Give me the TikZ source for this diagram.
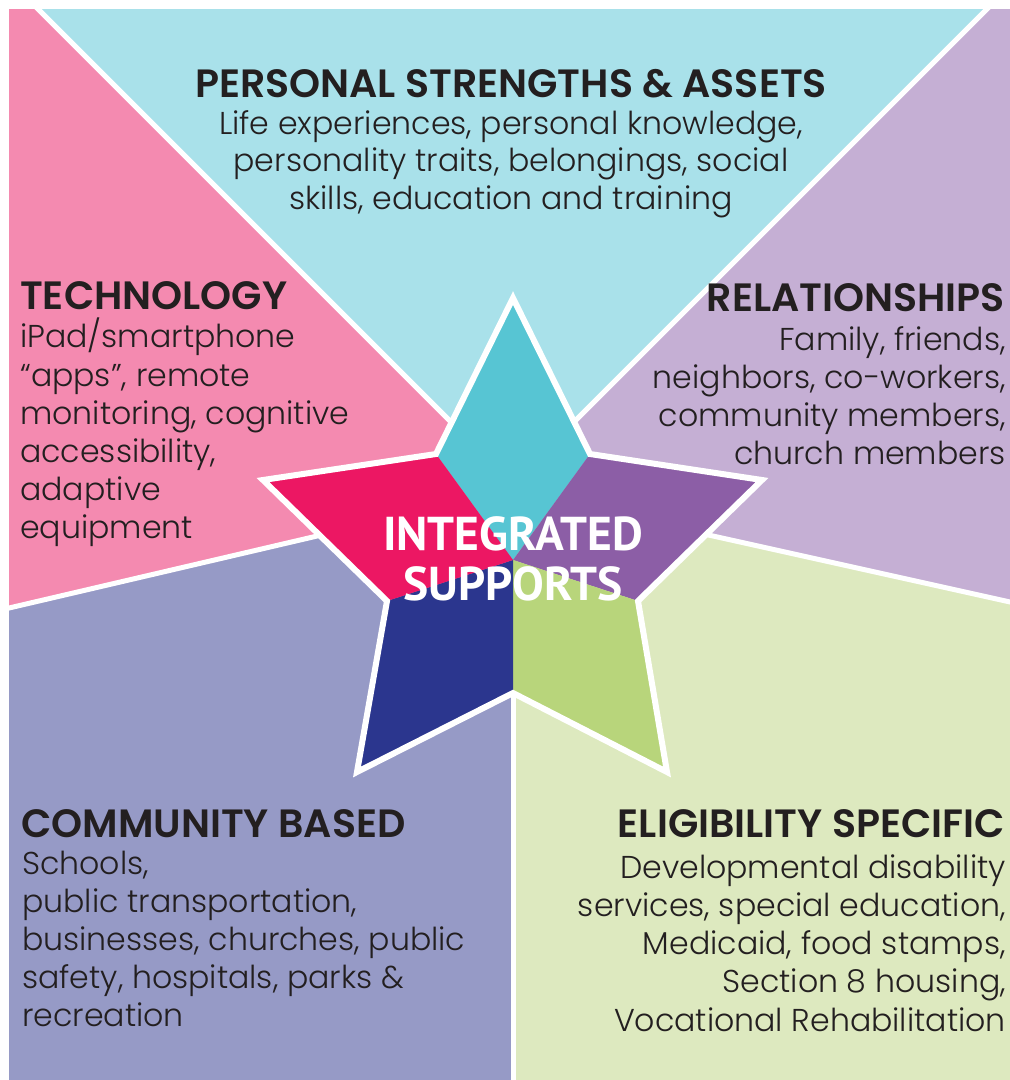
\documentclass[tikz,border=0pt]{standalone}
\usepackage{fontspec}
\newfontfamily\bodyfont{Poppins Light}
\newfontfamily\headfont{Poppins SemiBold}
\newfontfamily\starfont{PT Sans}
\definecolor{cyanbg}{HTML}{A9E1EA}
\definecolor{pinkbg}{HTML}{F48AB0}
\definecolor{purplebg}{HTML}{C5AFD4}
\definecolor{perbg}{HTML}{969AC6}
\definecolor{greenbg}{HTML}{DDE9BF}
\definecolor{scyan}{HTML}{57C5D3}
\definecolor{spink}{HTML}{EC1763}
\definecolor{spurple}{HTML}{8C5EA6}
\definecolor{snavy}{HTML}{2B368E}
\definecolor{sgreen}{HTML}{B8D57B}
\definecolor{txt}{HTML}{231F20}
\tikzset{
  divider/.style={draw=white, line width=5pt},
  starline/.style={draw=white, line width=6pt, line join=miter},
  headtxt/.style={font=\headfont\fontsize{39.5}{42}\selectfont, text=txt, inner sep=0pt},
  bodytxt/.style={font=\bodyfont\fontsize{31.6}{38}\selectfont, text=txt, inner sep=0pt},
  centertxt/.style={font=\starfont\bfseries\fontsize{47.5}{50}\selectfont, text=white, inner sep=0pt},
}
\begin{document}
\begin{tikzpicture}[x=1pt,y=-1pt]
\useasboundingbox (0,0) rectangle (1010,1080);
\fill[white] (0,0) rectangle (1010,1080);
% frame corners
\coordinate (TL) at (9,9);
\coordinate (TR) at (1010,9);
\coordinate (BR) at (1010,1080);
\coordinate (BL) at (9,1080);
% divider end points
\coordinate (Atop) at (38,9);
\coordinate (Btop) at (987,9);
\coordinate (Cl) at (9,608);
\coordinate (Dr) at (1010,602);
\coordinate (Ebot) at (513,1080);
\coordinate (Aout) at (30,1);
\coordinate (Bout) at (995,1);
\coordinate (Cout) at (0,610.1);
\coordinate (Dout) at (1020,604.2);
\coordinate (Eout) at (513,1090);
\coordinate (Ain) at (470,441);
\coordinate (Bin) at (557,439);
\coordinate (Cin) at (330,533);
\coordinate (Din) at (695,532);
\coordinate (Ein) at (513,690);
\coordinate (O) at (513,520);
% background regions
\fill[cyanbg] (Atop) -- (Btop) -- (Bin) -- (O) -- (Ain) -- cycle;
\fill[purplebg] (Btop) -- (TR) -- (Dr) -- (Din) -- (O) -- (Bin) -- cycle;
\fill[greenbg] (Dr) -- (BR) -- (Ebot) -- (Ein) -- (O) -- (Din) -- cycle;
\fill[perbg] (Ebot) -- (BL) -- (Cl) -- (Cin) -- (O) -- (Ein) -- cycle;
\fill[pinkbg] (Cl) -- (TL) -- (Atop) -- (Ain) -- (O) -- (Cin) -- cycle;
\draw[divider] (Aout) -- (Ain);
\draw[divider] (Bout) -- (Bin);
\draw[divider] (Cout) -- (Cin);
\draw[divider] (Dout) -- (Din);
\draw[divider] (Eout) -- (Ein);
% star
\coordinate (s1) at (513,298);
\coordinate (s2) at (590,454);
\coordinate (s3) at (762,480);
\coordinate (s4) at (638,601);
\coordinate (s5) at (667,772);
\coordinate (s6) at (513,693);
\coordinate (s7) at (357,772);
\coordinate (s8) at (387,601);
\coordinate (s9) at (263,480);
\coordinate (s10) at (436,454);
\coordinate (sc) at (513,560);
\fill[scyan] (s1) -- (s2) -- (sc) -- (s10) -- cycle;
\fill[spurple] (s2) -- (s3) -- (s4) -- (sc) -- cycle;
\fill[sgreen] (s4) -- (s5) -- (s6) -- (sc) -- cycle;
\fill[snavy] (s6) -- (s7) -- (s8) -- (sc) -- cycle;
\fill[spink] (s8) -- (s9) -- (s10) -- (sc) -- cycle;
\draw[starline] (s1) -- (s2) -- (s3) -- (s4) -- (s5) -- (s6) -- (s7) -- (s8) -- (s9) -- (s10) -- cycle;
% center text
\node[centertxt, anchor=base] (c1) at (513,550) {INTEGRATED};
\node[centertxt, anchor=base] (c2) at (513,600) {SUPPORTS};
% personal strengths
\node[headtxt, anchor=base] (p0) at (511,97) {PERSONAL STRENGTHS \& ASSETS};
\node[bodytxt, anchor=base] (p1) at (511,134) {Life experiences, personal knowledge,};
\node[bodytxt, anchor=base] (p2) at (511,171.5) {personality traits, belongings, social};
\node[bodytxt, anchor=base] (p3) at (511,209) {skills, education and training};
% technology
\node[headtxt, anchor=base west] (t0) at (20,309) {TECHNOLOGY};
\node[bodytxt, anchor=base west] (t1) at (20,347) {iPad/smartphone};
\node[bodytxt, anchor=base west] (t2) at (20,386) {“apps”, remote};
\node[bodytxt, anchor=base west] (t3) at (20,424) {monitoring, cognitive};
\node[bodytxt, anchor=base west] (t4) at (20,462) {accessibility,};
\node[bodytxt, anchor=base west] (t5) at (20,500) {adaptive};
\node[bodytxt, anchor=base west] (t6) at (20,538) {equipment};
% relationships
\node[headtxt, anchor=base east] (r0) at (1005,311) {RELATIONSHIPS};
\node[bodytxt, anchor=base east] (r1) at (1006,350) {Family, friends,};
\node[bodytxt, anchor=base east] (r2) at (1006,388) {neighbors, co-workers,};
\node[bodytxt, anchor=base east] (r3) at (1006,426) {community members,};
\node[bodytxt, anchor=base east] (r4) at (1006,464) {church members};
% community based
\node[headtxt, anchor=base west] (m0) at (21,837) {COMMUNITY BASED};
\node[bodytxt, anchor=base west] (m1) at (22,874) {Schools,};
\node[bodytxt, anchor=base west] (m2) at (22,912) {public transportation,};
\node[bodytxt, anchor=base west] (m3) at (22,950) {businesses, churches, public};
\node[bodytxt, anchor=base west] (m4) at (22,988) {safety, hospitals, parks \&};
\node[bodytxt, anchor=base west] (m5) at (22,1026) {recreation};
% eligibility specific
\node[headtxt, anchor=base east] (e0) at (1005,837) {ELIGIBILITY SPECIFIC};
\node[bodytxt, anchor=base east] (e1) at (1006,878) {Developmental disability};
\node[bodytxt, anchor=base east] (e2) at (1006,916) {services, special education,};
\node[bodytxt, anchor=base east] (e3) at (1006,954) {Medicaid, food stamps,};
\node[bodytxt, anchor=base east] (e4) at (1006,992) {Section 8 housing,};
\node[bodytxt, anchor=base east] (e5) at (1006,1031) {Vocational Rehabilitation};
\end{tikzpicture}
\end{document}
